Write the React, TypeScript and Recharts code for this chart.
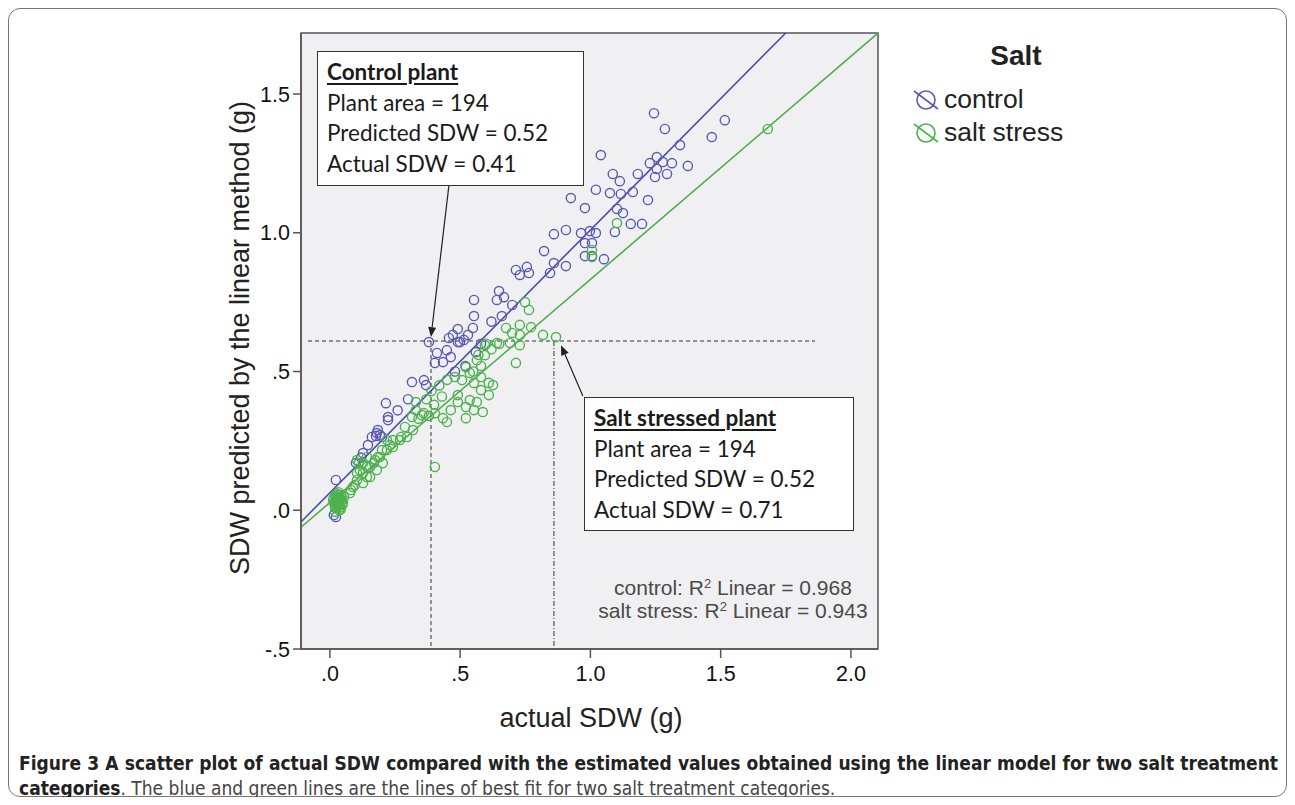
import React from 'react';
import { ScatterChart, Scatter, XAxis, YAxis, CartesianGrid, ReferenceLine, ReferenceArea } from 'recharts';

// ---------- data ----------
const xTicks = [0, 0.5, 1.0, 1.5, 2.0];
const yTicks = [-0.5, 0, 0.5, 1.0, 1.5];
const xDomain: [number, number] = [-0.111, 2.104];
const yDomain: [number, number] = [-0.5, 1.72];

const controlPoints = [
  [1.244, 1.431], [1.516, 1.406], [1.286, 1.374], [1.466, 1.345], [1.344, 1.316], [1.040, 1.280],
  [1.086, 1.212], [1.113, 1.186], [1.182, 1.212], [1.228, 1.251], [1.255, 1.273], [1.278, 1.255],
  [1.313, 1.251], [1.255, 1.230], [1.294, 1.212], [1.248, 1.201], [1.374, 1.241], [1.021, 1.155],
  [1.075, 1.143], [1.117, 1.140], [1.163, 1.147], [0.925, 1.125], [0.979, 1.089], [1.102, 1.086],
  [1.125, 1.071], [1.221, 1.118], [0.860, 0.995], [0.906, 1.010], [0.964, 0.999], [0.998, 1.006],
  [1.021, 0.999], [1.094, 1.003], [0.979, 0.963], [1.006, 0.963], [1.155, 1.032], [1.198, 1.032],
  [1.052, 0.905], [0.979, 0.916], [1.006, 0.916], [0.822, 0.934], [0.860, 0.891], [0.906, 0.880],
  [0.714, 0.866], [0.756, 0.877], [0.729, 0.848], [0.764, 0.855], [0.845, 0.855], [0.553, 0.758],
  [0.649, 0.790], [0.668, 0.768], [0.641, 0.758], [0.553, 0.700], [0.549, 0.657], [0.491, 0.653],
  [0.472, 0.632], [0.530, 0.632], [0.499, 0.606], [0.380, 0.606], [0.457, 0.621], [0.491, 0.606],
  [0.514, 0.614], [0.411, 0.567], [0.449, 0.577], [0.434, 0.534], [0.403, 0.531], [0.464, 0.552],
  [0.315, 0.462], [0.361, 0.469], [0.369, 0.451], [0.215, 0.386], [0.223, 0.336], [0.223, 0.325],
  [0.184, 0.289], [0.177, 0.268], [0.200, 0.264], [0.146, 0.235], [0.023, 0.109], [0.023, -0.024],
  [0.015, -0.017], [0.180, 0.278], [0.161, 0.264], [0.192, 0.271], [0.127, 0.206], [0.48, 0.50],
  [0.52, 0.52], [0.56, 0.57], [0.58, 0.60], [0.62, 0.68], [0.66, 0.70], [0.70, 0.74], [0.30, 0.40],
  [0.26, 0.36], [0.10, 0.17], [0.12, 0.19], [0.03, 0.03], [0.02, 0.05],
].map(([x, y]) => ({ x, y }));

const saltPoints = [
  [1.681, 1.374], [1.102, 1.035], [1.006, 0.938], [1.006, 0.913], [0.749, 0.750], [0.764, 0.722],
  [0.676, 0.657], [0.729, 0.668], [0.772, 0.660], [0.699, 0.639], [0.729, 0.632], [0.818, 0.632],
  [0.868, 0.624], [0.595, 0.595], [0.641, 0.603], [0.691, 0.603], [0.729, 0.595], [0.714, 0.531],
  [0.595, 0.559], [0.564, 0.541], [0.522, 0.516], [0.537, 0.495], [0.580, 0.480], [0.553, 0.459],
  [0.507, 0.469], [0.480, 0.480], [0.610, 0.459], [0.580, 0.433], [0.626, 0.451], [0.491, 0.415],
  [0.537, 0.397], [0.564, 0.390], [0.610, 0.415], [0.491, 0.390], [0.522, 0.372], [0.553, 0.361],
  [0.587, 0.354], [0.522, 0.332], [0.464, 0.361], [0.434, 0.332], [0.403, 0.350], [0.449, 0.318],
  [0.403, 0.156], [0.330, 0.390], [0.353, 0.343], [0.315, 0.336], [0.288, 0.300], [0.273, 0.264],
  [0.242, 0.253], [0.230, 0.235], [0.200, 0.217], [0.184, 0.192], [0.169, 0.170], [0.142, 0.156],
  [0.111, 0.170], [0.104, 0.134], [0.127, 0.134], [0.154, 0.120], [0.096, 0.091], [0.081, 0.073],
  [0.054, 0.048], [0.038, 0.037], [0.023, 0.030], [0.031, 0.026], [0.104, 0.181], [0.127, 0.170],
  [0.142, 0.192], [0.115, 0.145], [0.154, 0.156], [0.173, 0.181], [0.192, 0.192], [0.219, 0.217],
  [0.242, 0.228], [0.203, 0.170], [0.180, 0.145], [0.104, 0.109], [0.088, 0.084], [0.077, 0.062],
  [0.142, 0.120], [0.127, 0.098], [0.269, 0.253], [0.296, 0.264], [0.319, 0.289], [0.219, 0.253],
  [0.37, 0.40], [0.39, 0.43], [0.42, 0.45], [0.45, 0.47], [0.43, 0.41], [0.40, 0.38], [0.36, 0.35],
  [0.34, 0.33], [0.38, 0.34], [0.33, 0.36], [0.62, 0.58], [0.60, 0.60], [0.57, 0.56], [0.65, 0.60],
  [0.55, 0.50], [0.58, 0.52], [0.02, 0.01], [0.025, 0.02], [0.03, 0.04], [0.02, 0.05], [0.035, 0.0],
  [0.015, 0.03], [0.03, 0.015], [0.025, 0.045], [0.02, -0.005], [0.035, 0.03], [0.03, 0.055],
  [0.018, 0.02], [0.028, 0.008], [0.012, 0.04], [0.04, 0.01], [0.045, 0.035], [0.042, 0.055],
  [0.038, 0.02], [0.033, 0.065], [0.044, 0.045], [0.048, 0.02], [0.036, 0.048], [0.026, 0.06],
  [0.041, 0.003], [0.05, 0.03], [0.022, 0.035],
].map(([x, y]) => ({ x, y }));

// fit lines: y = a + b x
const controlFit = { a: 0.063, b: 0.947 };
const saltFit = { a: 0.028, b: 0.804 };

// annotation guide values
const guideY = 0.61;
const guideXStart = -0.084;
const guideXEnd = 1.862;
const controlActualX = 0.388;
const saltActualX = 0.86;
const controlArrow = { from: { x: 0.457, y: 1.172 }, to: { x: 0.388, y: 0.624 } };
const saltArrow = { from: { x: 0.971, y: 0.412 }, to: { x: 0.887, y: 0.595 } };

const legendTitle = 'Salt';
const seriesNames = ['control', 'salt stress'];
const r2Texts = [
  { name: 'control', value: '0.968' },
  { name: 'salt stress', value: '0.943' },
];

// ---------- styles ----------
const BLUE = '#5a5ab4';
const BLUE_LINE = '#4b4bab';
const GREEN = '#4db24d';
const GREEN_LINE = '#4cad4c';
const AXIS = '#555555';

const fmt = (v: number) => {
  const s = v.toFixed(1);
  return s.replace(/^(-?)0\./, '$1.');
};

const fitSegment = (fit: { a: number; b: number }) => {
  const x0 = xDomain[0];
  let x1 = xDomain[1];
  const yAtEnd = fit.a + fit.b * x1;
  if (yAtEnd > yDomain[1]) x1 = (yDomain[1] - fit.a) / fit.b;
  return [
    { x: x0, y: fit.a + fit.b * x0 },
    { x: x1, y: fit.a + fit.b * x1 },
  ];
};

const circleShape = (color: string) => (props: any) => (
  <circle cx={props.cx} cy={props.cy} r={4.6} fill="none" stroke={color} strokeWidth={1.4} />
);

const arrowShape = (props: any) => {
  const { x1, y1, x2, y2 } = props;
  const ang = Math.atan2(y2 - y1, x2 - x1);
  const L = 10;
  const W = 4;
  const bx = x2 - L * Math.cos(ang);
  const by = y2 - L * Math.sin(ang);
  const px = -Math.sin(ang) * W;
  const py = Math.cos(ang) * W;
  return (
    <g>
      <line x1={x1} y1={y1} x2={bx} y2={by} stroke="#222" strokeWidth={1.2} />
      <polygon points={`${x2},${y2} ${bx + px},${by + py} ${bx - px},${by - py}`} fill="#222" />
    </g>
  );
};

const legendSymbol = (color: string) => (
  <svg width={28} height={28} style={{ display: 'block' }}>
    <circle cx={14} cy={14} r={9} fill="none" stroke={color} strokeWidth={1.6} />
    <line x1={2} y1={5} x2={26} y2={23} stroke={color} strokeWidth={1.6} />
  </svg>
);

const boxFont = 'Lato, "Open Sans", sans-serif';
const arial = 'Arial, "Liberation Sans", Helvetica, sans-serif';

const AnnotationBox = ({ left, top, width, height, lines }: any) => (
  <div
    style={{
      position: 'absolute', left, top, width, height, boxSizing: 'border-box',
      background: '#fff', border: '1.5px solid #333', fontFamily: boxFont, fontSize: 22.5,
      color: '#1a1a1a', paddingLeft: 9, paddingTop: 5, lineHeight: '30.5px',
    }}
  >
    <div style={{ fontWeight: 700, textDecoration: 'underline', textUnderlineOffset: 3 }}>{lines[0]}</div>
    {lines.slice(1).map((l: string) => (
      <div key={l}>{l}</div>
    ))}
  </div>
);

export default function App() {
  return (
    <div
      style={{
        position: 'relative', width: 1279, height: 789, boxSizing: 'border-box',
        border: '1.5px solid #777', borderRadius: 12, background: '#fff', fontFamily: arial,
      }}
    >
      <div style={{ position: 'absolute', left: -1.5, top: -1.5 }}>
        <ScatterChart width={1279} height={789} margin={{ top: 25, right: 409, bottom: 88, left: 233 }}>
          <CartesianGrid fill="#f0f0f2" horizontal={false} vertical={false} />
          <XAxis
            type="number" dataKey="x" domain={xDomain} ticks={xTicks} allowDataOverflow
            tickFormatter={fmt} height={60} tickSize={9} tickMargin={8}
            axisLine={{ stroke: AXIS, strokeWidth: 1.5 }} tickLine={{ stroke: AXIS, strokeWidth: 1.5 }}
            tick={{ fill: '#111', fontSize: 21.5, fontFamily: arial }}
          />
          <YAxis
            type="number" dataKey="y" domain={yDomain} ticks={yTicks} allowDataOverflow
            tickFormatter={fmt} width={60} tickSize={8} tickMargin={3}
            axisLine={{ stroke: AXIS, strokeWidth: 1.5 }} tickLine={{ stroke: AXIS, strokeWidth: 1.5 }}
            tick={{ fill: '#111', fontSize: 21.5, fontFamily: arial }}
          />
          <ReferenceArea
            x1={xDomain[0]} x2={xDomain[1]} y1={yDomain[0]} y2={yDomain[1]}
            fill="none" stroke={AXIS} strokeWidth={1.5} ifOverflow="visible"
          />
          <ReferenceLine
            segment={[{ x: guideXStart, y: guideY }, { x: guideXEnd, y: guideY }]}
            stroke="#333" strokeWidth={1} strokeDasharray="4 3"
          />
          <ReferenceLine
            segment={[{ x: controlActualX, y: guideY }, { x: controlActualX, y: yDomain[0] }]}
            stroke="#333" strokeWidth={1} strokeDasharray="4 3"
          />
          <ReferenceLine
            segment={[{ x: saltActualX, y: guideY }, { x: saltActualX, y: yDomain[0] }]}
            stroke="#333" strokeWidth={1} strokeDasharray="5 2 1 2"
          />
          <ReferenceLine segment={fitSegment(controlFit)} stroke={BLUE_LINE} strokeWidth={1.6} />
          <ReferenceLine segment={fitSegment(saltFit)} stroke={GREEN_LINE} strokeWidth={1.6} />
          <Scatter name={seriesNames[0]} data={controlPoints} shape={circleShape(BLUE)} isAnimationActive={false} />
          <Scatter name={seriesNames[1]} data={saltPoints} shape={circleShape(GREEN)} isAnimationActive={false} />
          <ReferenceLine segment={[controlArrow.from, controlArrow.to]} shape={arrowShape} ifOverflow="visible" />
          <ReferenceLine segment={[saltArrow.from, saltArrow.to]} shape={arrowShape} ifOverflow="visible" />
        </ScatterChart>
      </div>

      <AnnotationBox
        left={308} top={42} width={267} height={135}
        lines={['Control plant', 'Plant area = 194', 'Predicted SDW = 0.52', 'Actual SDW = 0.41']}
      />
      <AnnotationBox
        left={575} top={388} width={270} height={134}
        lines={['Salt stressed plant', 'Plant area = 194', 'Predicted SDW = 0.52', 'Actual SDW = 0.71']}
      />

      {/* R squared */}
      <div
        style={{
          position: 'absolute', left: 474, top: 568, width: 500, textAlign: 'center',
          fontSize: 21, color: '#4a4a4a', lineHeight: '22.5px', fontFamily: arial,
        }}
      >
        {r2Texts.map((r) => (
          <div key={r.name} style={{ height: 22.5 }}>
            {r.name}: R<span style={{ fontSize: 13, lineHeight: '13px', verticalAlign: 'top' }}>2</span> Linear = {r.value}
          </div>
        ))}
      </div>

      {/* legend */}
      <div style={{ position: 'absolute', left: 947, top: 31, width: 120, textAlign: 'center', fontWeight: 700, fontSize: 28, color: '#222' }}>
        {legendTitle}
      </div>
      {seriesNames.map((n, i) => (
        <div
          key={n}
          style={{ position: 'absolute', left: 903, top: 75 + i * 33, display: 'flex', alignItems: 'center', fontSize: 26.5, color: '#222' }}
        >
          {legendSymbol(i === 0 ? BLUE : GREEN)}
          <span style={{ marginLeft: 4 }}>{n}</span>
        </div>
      ))}

      {/* axis titles */}
      <div
        style={{
          position: 'absolute', left: 231 - 280, top: 329 - 16, width: 560, height: 32, lineHeight: '32px',
          textAlign: 'center', fontSize: 27, color: '#222', transform: 'rotate(-90deg)',
        }}
      >
        SDW predicted by the linear method (g)
      </div>
      <div
        style={{
          position: 'absolute', left: 582 - 150, top: 709 - 16, width: 300, height: 32, lineHeight: '32px',
          textAlign: 'center', fontSize: 27, color: '#222',
        }}
      >
        actual SDW (g)
      </div>

      {/* caption */}
      <div
        style={{
          position: 'absolute', left: 10, top: 742, width: 1259,
          fontFamily: '"Liberation Sans Narrow", "DejaVu Sans Condensed", "Roboto Condensed", sans-serif',
          fontSize: 19, color: '#222', lineHeight: '25px',
        }}
      >
        <div style={{ fontWeight: 700, textAlign: 'justify', textAlignLast: 'justify' }}>
          Figure 3 A scatter plot of actual SDW compared with the estimated values obtained using the linear model for two salt treatment
        </div>
        <div>
          <span style={{ fontWeight: 700 }}>categories</span>
          <span style={{ color: '#444' }}>. The blue and green lines are the lines of best fit for two salt treatment categories.</span>
        </div>
      </div>
    </div>
  );
}
